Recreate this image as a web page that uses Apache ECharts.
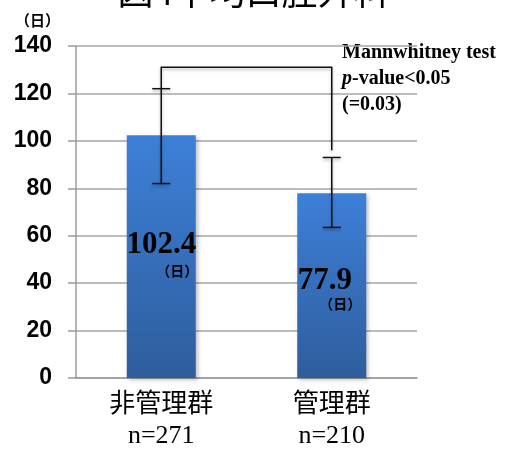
<!DOCTYPE html>
<html>
<head>
<meta charset="utf-8">
<script src="https://cdn.jsdelivr.net/npm/echarts@6/dist/echarts.min.js"></script>
<style>html,body{margin:0;padding:0;background:#fff}#c{width:507px;height:450px}</style>
</head>
<body>
<div id="c"></div>
<script>
const titleText = '図4平均口腔外科';
const categories = ['非管理群', '管理群'];
const sampleSizes = ['n=271', 'n=210'];
const meanDays = [102.4, 77.9];
const errLow = [82, 63.5];
const errHigh = [122, 93];
// bracket: [fromCategory, toCategory, topValue, leftEndValue, rightEndValue]
const bracket = [[0, 1, 131, 122, 96]];
const yMin = 0, yMax = 140, yStep = 20;
const testLines = ['Mannwhitney test', 'p-value<0.05', '(=0.03)'];
const unitLabel = '（日）';

const chart = echarts.init(document.getElementById('c'));
const serif = '"Liberation Serif", "Times New Roman", serif';
const cjk = '"Noto Sans CJK JP", sans-serif';
const labelTweaks = [
  {distance: 93, offset: [0, 0], vLH: 34, uPad: [0, 0, 0, 32]},
  {distance: 75, offset: [-7, 0], vLH: 26, uPad: [0, 0, 0, 31]}
];
const barData = meanDays.map((v, i) => ({
  value: v,
  label: {
    show: true,
    position: 'insideTop',
    distance: labelTweaks[i].distance,
    offset: labelTweaks[i].offset,
    formatter: '{v|' + v + '}\n{u|' + unitLabel + '}',
    rich: {
      v: {fontFamily: serif, fontWeight: 'bold', fontSize: 31, color: '#000', lineHeight: labelTweaks[i].vLH},
      u: {fontFamily: cjk, fontWeight: 'bold', fontSize: 14, color: '#000', lineHeight: 18, padding: labelTweaks[i].uPad}
    }
  }
}));
const lineStyle = {stroke: '#111', lineWidth: 1.5, shadowBlur: 3, shadowColor: 'rgba(0,0,0,0.3)', shadowOffsetY: 2};

chart.setOption({
  animation: false,
  title: {
    text: titleText, left: 'center', top: -32,
    textStyle: {fontFamily: cjk, fontWeight: 'normal', fontSize: 36, color: '#000'}
  },
  grid: {left: 76, right: 90, top: 46, bottom: 72},
  xAxis: {
    type: 'category', data: categories,
    axisLine: {lineStyle: {color: '#9a9a9a', width: 1.5}},
    axisTick: {show: false},
    axisLabel: {
      margin: 7,
      formatter: (v, i) => '{c|' + v + '}\n{n|' + sampleSizes[i] + '}',
      rich: {
        c: {fontFamily: cjk, fontSize: 26, color: '#000', lineHeight: 34},
        n: {fontFamily: serif, fontSize: 26, color: '#000', lineHeight: 34}
      }
    }
  },
  yAxis: {
    type: 'value', min: yMin, max: yMax, interval: yStep,
    name: unitLabel, nameLocation: 'end', nameGap: 18,
    nameTextStyle: {fontFamily: cjk, fontWeight: 'bold', fontSize: 15, color: '#000', align: 'right', padding: [0, 16, 0, 0]},
    axisLine: {show: true, lineStyle: {color: '#9a9a9a', width: 1.5}},
    axisTick: {show: true, length: 8, lineStyle: {color: '#9a9a9a', width: 1.5}},
    axisLabel: {margin: 24, fontFamily: '"Liberation Sans", Arial, sans-serif', fontWeight: 'bold', fontSize: 23, color: '#000'},
    splitLine: {lineStyle: {color: '#a6a6a6', width: 1.5}}
  },
  graphic: [{
    type: 'text', left: 342, top: 43,
    style: {
      text: '{a|' + testLines[0] + '}\n{i|p}{a|' + testLines[1].slice(1) + '}\n{a|' + testLines[2] + '}',
      rich: {
        a: {fontFamily: serif, fontWeight: 'bold', fontSize: 20, fill: '#000', lineHeight: 26},
        i: {fontFamily: serif, fontWeight: 'bold', fontStyle: 'italic', fontSize: 20, fill: '#000', lineHeight: 26}
      }
    }
  }],
  series: [
    {
      type: 'bar', data: barData, barWidth: 69,
      itemStyle: {
        color: new echarts.graphic.LinearGradient(0, 0, 0, 1, [
          {offset: 0, color: '#3d80d8'}, {offset: 1, color: '#2e5d9c'}
        ]),
        shadowBlur: 4, shadowOffsetX: 2, shadowOffsetY: 2, shadowColor: 'rgba(0,0,0,0.25)'
      },
      z: 2
    },
    {
      type: 'custom', z: 5,
      data: meanDays.map((v, i) => [i, errLow[i], errHigh[i]]),
      renderItem: (params, api) => {
        const lo = api.coord([api.value(0), api.value(1)]);
        const hi = api.coord([api.value(0), api.value(2)]);
        const w = 9;
        return {type: 'group', children: [
          {type: 'line', shape: {x1: lo[0], y1: lo[1], x2: hi[0], y2: hi[1]}, style: lineStyle},
          {type: 'line', shape: {x1: lo[0] - w, y1: lo[1], x2: lo[0] + w, y2: lo[1]}, style: lineStyle},
          {type: 'line', shape: {x1: hi[0] - w, y1: hi[1], x2: hi[0] + w, y2: hi[1]}, style: lineStyle}
        ]};
      }
    },
    {
      type: 'custom', z: 5,
      data: bracket,
      renderItem: (params, api) => {
        const a = api.coord([api.value(0), api.value(3)]);
        const t1 = api.coord([api.value(0), api.value(2)]);
        const t2 = api.coord([api.value(1), api.value(2)]);
        const b = api.coord([api.value(1), api.value(4)]);
        return {type: 'polyline', shape: {points: [a, t1, t2, b]}, style: Object.assign({fill: null}, lineStyle)};
      }
    }
  ]
});
</script>
</body>
</html>
